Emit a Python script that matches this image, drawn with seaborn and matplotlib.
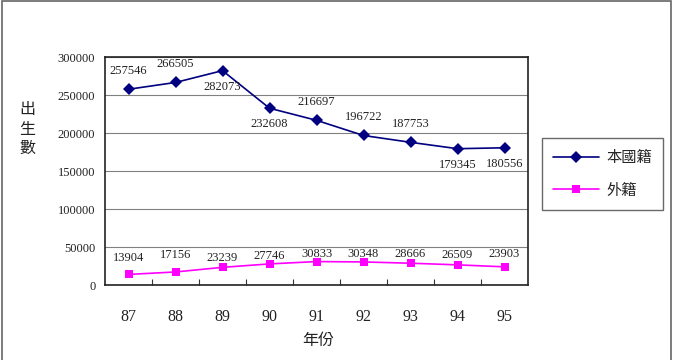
import matplotlib
matplotlib.use("Agg")
from matplotlib import pyplot as plt
from matplotlib.patches import Rectangle
from matplotlib.ticker import FixedLocator
import seaborn as sns
import pandas as pd

# data
years = ["87", "88", "89", "90", "91", "92", "93", "94", "95"]
native = [257546, 266505, 282073, 232608, 216697, 196722, 187753, 179345, 180556]
foreign = [13904, 17156, 23239, 27746, 30833, 30348, 28666, 26509, 23903]
series_names = ["本國籍", "外籍"]

# label placement (pixel offsets above / below the point)
native_offsets = [18, 18, -16, -16, 18, 18, 18, -16, -16]
foreign_offsets = [16, 17, 9, 8, 8, 8, 9, 10, 13]

sns.set_style("white")
serif = ["Liberation Serif", "Noto Sans CJK TC"]
cjk = ["Noto Sans CJK TC", "DejaVu Sans"]
plt.rcParams["font.family"] = serif

df = pd.DataFrame({"x": list(range(len(years))) * 2,
                   "value": native + foreign,
                   "series": [series_names[0]] * len(years) + [series_names[1]] * len(years)})

fig = plt.figure(figsize=(6.73, 3.6), dpi=100)
ax = fig.add_axes([105 / 673, 1 - 285 / 360, 423 / 673, 228 / 360])

palette = {series_names[0]: "#000080", series_names[1]: "#FF00FF"}
markers = {series_names[0]: "D", series_names[1]: "s"}
sns.lineplot(data=df, x="x", y="value", hue="series", style="series",
             palette=palette, markers=markers, dashes=False, markersize=6,
             markeredgewidth=0, linewidth=1.2, ax=ax, legend=False)

for i, v in enumerate(native):
    ax.annotate(str(v), (i, v), xytext=(0, native_offsets[i]), textcoords="offset pixels",
                ha="center", va="center", fontsize=9, color="#222222")
for i, v in enumerate(foreign):
    ax.annotate(str(v), (i, v), xytext=(0, foreign_offsets[i]), textcoords="offset pixels",
                ha="center", va="center", fontsize=9, color="#222222")

ax.set_xlim(-0.5, len(years) - 0.5)
ax.set_ylim(0, 300000)
ax.set_yticks(range(0, 300001, 50000))
ax.set_yticklabels([str(t) for t in range(0, 300001, 50000)], fontsize=9, color="#222222")
ax.yaxis.grid(True, color="#808080", linewidth=0.8)
ax.tick_params(axis="y", length=0, pad=7)

ax.set_xticks(range(len(years)))
ax.set_xticklabels(years, fontsize=11.5, color="#222222")
ax.xaxis.set_minor_locator(FixedLocator([i + 0.5 for i in range(len(years) - 1)]))
ax.tick_params(axis="x", which="major", length=0, pad=17)
ax.tick_params(axis="x", which="minor", direction="in", length=4, width=0.8, color="#333333", bottom=True)

for s in ax.spines.values():
    s.set_visible(True)
    s.set_color("#222222")
    s.set_linewidth(1.2)

ax.set_xlabel("")
ax.set_ylabel("")
fig.text(318 / 673, 1 - 340 / 360, "年份", ha="center", va="center", fontsize=11.5,
         family=cjk, color="#222222")
fig.text(27 / 673, 1 - 129 / 360, "出\n生\n數", ha="center", va="center", fontsize=11.5,
         family=cjk, color="#222222", linespacing=1.2)

handles = [plt.Line2D([], [], color=palette[n], marker=markers[n], markersize=6,
                      markeredgewidth=0, linewidth=1.2) for n in series_names]
leg = fig.legend(handles, series_names, loc="upper left",
                 bbox_to_anchor=(542 / 673, 1 - 138 / 360), frameon=True, fancybox=False,
                 prop={"family": cjk, "size": 11}, labelspacing=1.0, handlelength=3.0,
                 borderpad=0.75, handletextpad=0.45, borderaxespad=0)
leg.get_frame().set_edgecolor("#444444")
leg.get_frame().set_linewidth(1.0)

fig.patches.append(Rectangle((1.5 / 673, -0.1), 669 / 673, 1.1 - 1.5 / 360,
                             transform=fig.transFigure, fill=False,
                             edgecolor="#666666", linewidth=1.2))

fig.savefig("out.png", dpi=100)
